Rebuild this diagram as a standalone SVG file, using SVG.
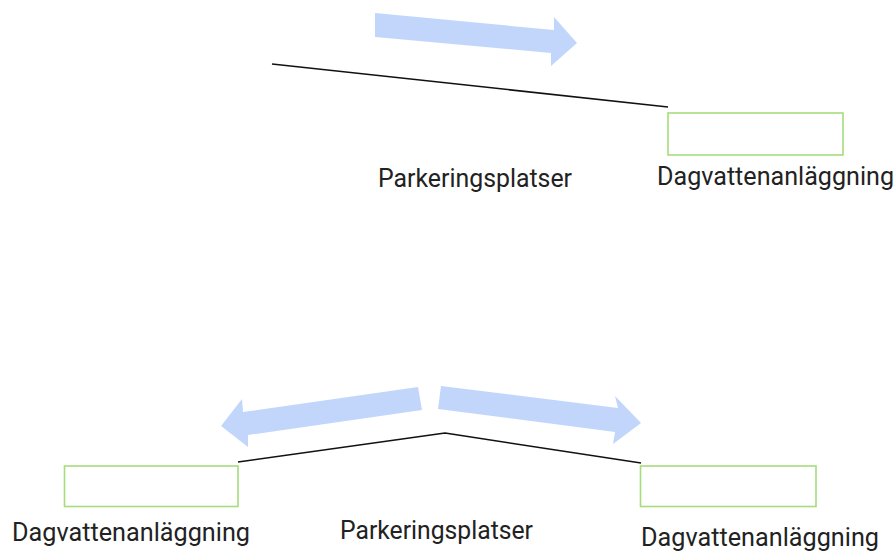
<svg xmlns="http://www.w3.org/2000/svg" width="896" height="552" viewBox="0 0 896 552">
  <style>
    .box { fill: #ffffff; stroke: #a6dc7c; stroke-width: 1.6; }
    .lbl { font-family: Roboto, "Liberation Sans", sans-serif; font-size: 25px; fill: #222222; }
    .edge { fill: none; stroke: #111111; stroke-width: 1.5; stroke-linejoin: round; }
    .flow { fill: #c2d6fc; }
  </style>
  <rect width="896" height="552" fill="#ffffff"/>

  <!-- flow arrows -->
  <g id="flows">
    <polygon class="flow" points="375,13 554,30 554,17 577,43 551,66 551,53 375,37"/>
    <polygon class="flow" points="221,426 242,399 243,412 418,387 422,410 248,435 248,447"/>
    <polygon class="flow" points="441,386 618,408 615,396 641,423 613,444 615,432 438,409"/>
  </g>

  <!-- sloped surfaces -->
  <g id="connectors">
    <line class="edge" x1="272" y1="64" x2="668" y2="107"/>
    <polyline class="edge" points="238,462 445,433 641,463"/>
  </g>

  <!-- upper case: one-sided slope -->
  <g id="parking-top">
    <text class="lbl" x="378" y="187" textLength="194" lengthAdjust="spacingAndGlyphs">Parkeringsplatser</text>
  </g>
  <g id="facility-top">
    <rect class="box" x="668" y="113" width="175" height="42"/>
    <text class="lbl" x="657" y="185" textLength="237" lengthAdjust="spacingAndGlyphs">Dagvattenanläggning</text>
  </g>

  <!-- lower case: ridge draining both ways -->
  <g id="parking-bottom">
    <text class="lbl" x="340" y="539" textLength="193" lengthAdjust="spacingAndGlyphs">Parkeringsplatser</text>
  </g>
  <g id="facility-left">
    <rect class="box" x="64.5" y="466" width="173.5" height="40.5"/>
    <text class="lbl" x="12" y="541" textLength="238" lengthAdjust="spacingAndGlyphs">Dagvattenanläggning</text>
  </g>
  <g id="facility-right">
    <rect class="box" x="640.5" y="466" width="175.5" height="40.5"/>
    <text class="lbl" x="641" y="546" textLength="238" lengthAdjust="spacingAndGlyphs">Dagvattenanläggning</text>
  </g>
</svg>
